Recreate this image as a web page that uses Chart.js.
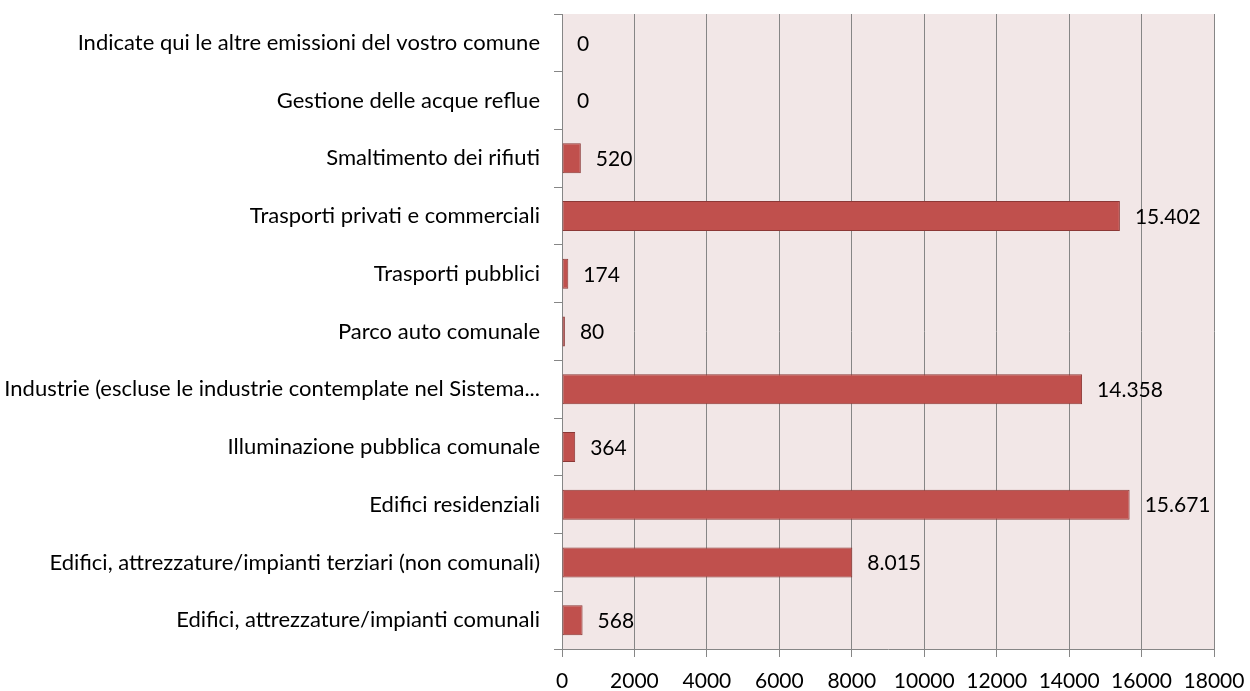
<!DOCTYPE html>
<html>
<head>
<meta charset="utf-8">
<script src="https://cdn.jsdelivr.net/npm/chart.js@4/dist/chart.umd.min.js"></script>
<style>
	html, body { margin: 0; padding: 0; background: #ffffff; }
	#wrap { width: 1250px; height: 691px; }
</style>
</head>
<body>
<div id="wrap"><canvas id="emissionsChart"></canvas></div>
<script>
// Emission sectors, top to bottom
const sectors = [
	"Indicate qui le altre emissioni del vostro comune",
	"Gestione delle acque reflue",
	"Smaltimento dei rifiuti",
	"Trasporti privati e commerciali",
	"Trasporti pubblici",
	"Parco auto comunale",
	"Industrie (escluse le industrie contemplate nel Sistema...",
	"Illuminazione pubblica comunale",
	"Edifici residenziali",
	"Edifici, attrezzature/impianti terziari (non comunali)",
	"Edifici, attrezzature/impianti comunali",
];
const emissions = [0, 0, 520, 15402, 174, 80, 14358, 364, 15671, 8015, 568];
const xTicks = [0, 2000, 4000, 6000, 8000, 10000, 12000, 14000, 16000, 18000];

const labelFont = "Lato, 'Open Sans', sans-serif";

// pink plot background
const plotBackground = {
	id: "plotBackground",
	beforeDraw(chart) {
		const { ctx, chartArea } = chart;
		ctx.save();
		ctx.fillStyle = "#f2e7e7";
		ctx.fillRect(chartArea.left, chartArea.top, chartArea.right - chartArea.left, chartArea.bottom - chartArea.top);
		ctx.restore();
	},
};

// value labels to the right of each bar, Italian thousands separator
const valueLabels = {
	id: "valueLabels",
	afterDatasetsDraw(chart) {
		const { ctx } = chart;
		const meta = chart.getDatasetMeta(0);
		ctx.save();
		ctx.font = "21px " + labelFont;
		ctx.fillStyle = "#000000";
		ctx.textAlign = "left";
		ctx.textBaseline = "middle";
		meta.data.forEach(function (bar, i) {
			const txt = emissions[i].toLocaleString("it-IT");
			ctx.fillText(txt, bar.x + 15, bar.y + 1);
		});
		ctx.restore();
	},
};

new Chart(document.getElementById("emissionsChart"), {
	type: "bar",
	data: {
		labels: sectors,
		datasets: [
			{
				data: emissions,
				backgroundColor: "#c0504d",
				borderColor: "#8c3836",
				borderWidth: 1,
				borderSkipped: false,
				barPercentage: 0.52,
				categoryPercentage: 1,
			},
		],
	},
	options: {
		indexAxis: "y",
		responsive: true,
		maintainAspectRatio: false,
		animation: false,
		layout: { padding: { top: 14, right: 36, left: 0, bottom: 0 } },
		plugins: {
			legend: { display: false },
			tooltip: { enabled: false },
		},
		scales: {
			x: {
				min: 0,
				max: 18000,
				afterBuildTicks(scale) {
					scale.ticks = xTicks.map(function (v) { return { value: v }; });
				},
				afterFit(scale) {
					scale.height = 42;
					scale.paddingLeft = 0;
					scale.paddingRight = 0;
				},
				grid: { color: "#868686", lineWidth: 1, tickLength: 8 },
				border: { color: "#868686" },
				ticks: {
					color: "#000000",
					font: { family: labelFont, size: 21 },
					padding: 12,
					maxRotation: 0,
					autoSkip: false,
					callback: function (value) { return String(value); },
				},
			},
			y: {
				afterFit(scale) {
					scale.width = 562;
					scale.paddingTop = 0;
					scale.paddingBottom = 0;
				},
				grid: { drawOnChartArea: false, color: "#868686", tickLength: 8, offset: true },
				border: { color: "#868686" },
				ticks: {
					color: "#000000",
					font: { family: labelFont, size: 22 },
					padding: 14,
					autoSkip: false,
				},
			},
		},
	},
	plugins: [plotBackground, valueLabels],
});
</script>
</body>
</html>
